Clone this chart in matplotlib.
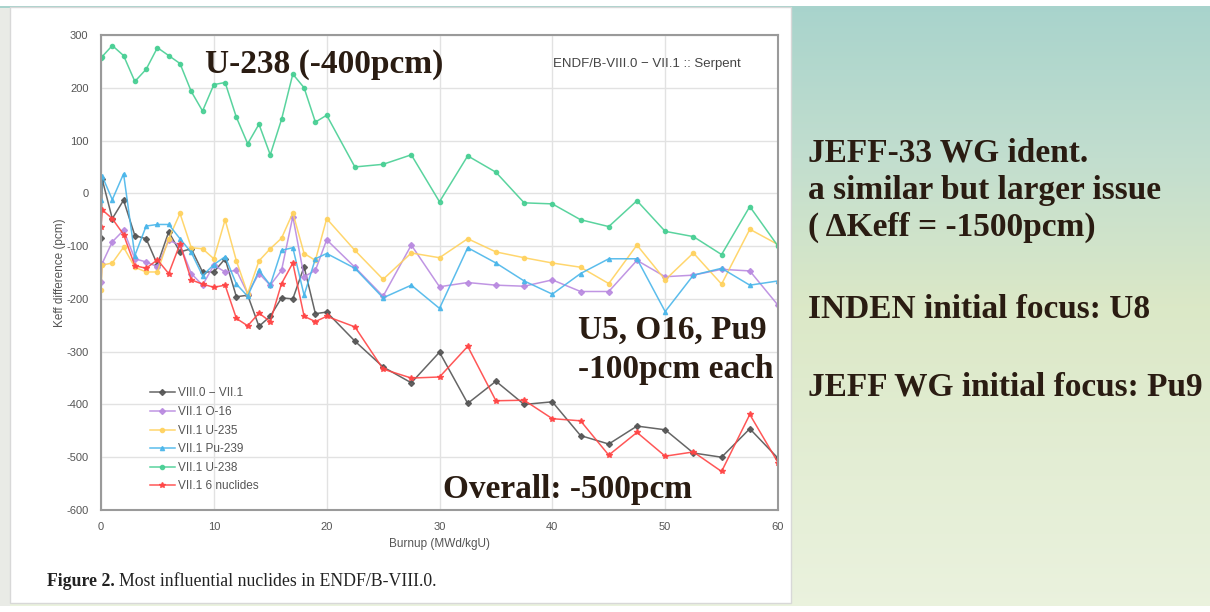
import numpy as np
import matplotlib.pyplot as plt
from matplotlib.patches import Rectangle

plt.rcParams['axes.unicode_minus'] = False

# burnup steps (MWd/kgU)
burnup = [0, 0.1, 1, 2, 3, 4, 5, 6, 7, 8, 9, 10, 11, 12, 13, 14, 15, 16, 17, 18, 19, 20,
          22.5, 25, 27.5, 30, 32.5, 35, 37.5, 40, 42.5, 45, 47.5, 50, 52.5, 55, 57.5, 60]

viii_minus_vii = [-84, 27, -48, -13, -80, -86, -135, -73, -111, -105, -149, -149, -124, -196,
                  -193, -252, -233, -198, -200, -139, -228, -225,
                  -280, -329, -359, -301, -398, -356, -400, -395, -459, -475, -441, -448,
                  -492, -500, -446, -502]
o16 = [-168, -133, -92, -70, -124, -130, -139, -89, -98, -152, -174, -136, -149, -146,
       -190, -152, -174, -146, -44, -158, -146, -88,
       -140, -195, -98, -177, -169, -174, -176, -164, -186, -186, -127, -158,
       -155, -144, -147, -212]
u235 = [-183, -136, -132, -102, -140, -149, -149, -86, -38, -103, -105, -124, -50, -128,
        -190, -128, -105, -85, -37, -114, -127, -48,
        -108, -163, -113, -122, -86, -111, -122, -132, -140, -171, -98, -164,
        -113, -172, -68, -97]
pu239 = [-12, 33, -12, 37, -118, -62, -59, -59, -86, -112, -156, -135, -120, -172,
         -195, -146, -174, -108, -103, -193, -124, -114,
         -142, -198, -174, -218, -103, -132, -166, -191, -152, -124, -124, -224,
         -155, -142, -174, -166]
u238 = [256, 259, 280, 261, 212, 235, 276, 261, 246, 193, 156, 206, 210, 144,
        94, 131, 73, 140, 226, 200, 135, 148,
        50, 55, 73, -16, 71, 40, -18, -20, -50, -63, -14, -72,
        -82, -116, -25, -100]
six_nuc = [-63, -31, -48, -78, -137, -142, -126, -152, -96, -164, -172, -178, -174, -237,
           -251, -227, -243, -171, -132, -233, -243, -233,
           -253, -333, -350, -348, -290, -393, -392, -427, -431, -496, -453, -498,
           -490, -527, -419, -510]

labels = ['VIII.0 \u2212 VII.1', 'VII.1 O-16', 'VII.1 U-235', 'VII.1 Pu-239',
          'VII.1 U-238', 'VII.1 6 nuclides']
colors = ['#555555', '#b98ae0', '#ffd25e', '#4ab6ea', '#48cf94', '#ff4545']
markers = ['D', 'D', 'o', '^', 'o', '*']

right_lines = ['JEFF-33 WG ident.', 'a similar but larger issue',
               '( \u0394Keff = -1500pcm)', 'INDEN initial focus: U8',
               'JEFF WG initial focus: Pu9']

W, H = 1210, 612
fig = plt.figure(figsize=(12.1, 6.12), dpi=100, facecolor='white')

# slide background gradient
bg = fig.add_axes([0, 6 / H, 1, 600 / H], zorder=-10)
stops = np.array([[0.66, 0.83, 0.80], [0.76, 0.87, 0.81], [0.86, 0.91, 0.78],
                  [0.89, 0.93, 0.83], [0.92, 0.95, 0.87]])
t = np.linspace(0, 1, 300)
grad = np.stack([np.interp(t, np.linspace(0, 1, len(stops)), stops[:, c]) for c in range(3)], axis=1)
bg.imshow(grad[:, None, :], aspect='auto', extent=[0, 1, 0, 1], origin='upper')
bg.axis('off')

# left pale strip and white panel with the paper figure
fig.patches.append(Rectangle((0, 6 / H), 10 / W, 598 / H, transform=fig.transFigure,
                             facecolor='#e9ebe6', edgecolor='none', zorder=-6))
fig.patches.append(Rectangle((10 / W, 9 / H), 781 / W, 596 / H, transform=fig.transFigure,
                             facecolor='white', edgecolor='#d8d8d8', lw=1, zorder=-5))

sans = 'Liberation Sans'
ax = fig.add_axes([101 / W, 1 - 510 / H, 677 / W, 475 / H])
series = [viii_minus_vii, o16, u235, pu239, u238, six_nuc]
for ys, lab, col, mk in zip(series, labels, colors, markers):
    ax.plot(burnup, ys, color=col, marker=mk, markersize=3.0 if mk != '*' else 3.8,
            lw=1.1, label=lab, alpha=0.9)

ax.set_xlim(0, 60)
ax.set_ylim(-600, 300)
ax.set_xticks(range(0, 61, 10))
ax.set_yticks(range(-600, 301, 100))
ax.grid(color='#e2e2e2', lw=1)
ax.set_axisbelow(True)
for s in ax.spines.values():
    s.set_color('#9a9a9a')
    s.set_linewidth(1.5)
ax.tick_params(length=0, labelsize=8, colors='#555555', pad=9)
for lbl in ax.get_xticklabels() + ax.get_yticklabels():
    lbl.set_family(sans)
ax.set_xlabel('Burnup (MWd/kgU)', fontsize=8.5, color='#555555', labelpad=4, family=sans)
ax.set_ylabel('Keff difference (pcm)', fontsize=8.5, color='#555555', labelpad=0, family=sans)

leg = ax.legend(loc='upper left', bbox_to_anchor=(0.065, 0.268), frameon=False,
                prop={'family': sans, 'size': 8.5}, handlelength=2.1, handletextpad=0.3,
                labelspacing=0.56, labelcolor='#555555', borderaxespad=0)

serif = 'Liberation Serif'
tc = '#2a1c12'
big = 24
ax.text(9.2, 245, 'U-238 (-400pcm)', fontsize=big, fontweight='bold', family=serif,
        color=tc, va='center')
ax.text(40.1, 246, 'ENDF/B-VIII.0 \u2212 VII.1 :: Serpent', fontsize=9.5, color='#444444',
        va='center', family=sans)
ax.text(42.3, -259, 'U5, O16, Pu9', fontsize=big, fontweight='bold', family=serif,
        color=tc, va='center')
ax.text(42.3, -334, '-100pcm each', fontsize=big, fontweight='bold', family=serif,
        color=tc, va='center')
ax.text(30.3, -562, 'Overall: -500pcm', fontsize=big, fontweight='bold', family=serif,
        color=tc, va='center')

# caption
cap = fig.text(47 / W, 1 - 582 / H, 'Figure 2.', fontsize=12.8, fontweight='bold',
               family=serif, color='#222222', va='center')
fig.canvas.draw()
bb = cap.get_window_extent()
fig.text(bb.x1 / W + 4 / W, 1 - 582 / H, 'Most influential nuclides in ENDF/B-VIII.0.',
         fontsize=12.8, family=serif, color='#222222', va='center')

# right side notes
ys_right = [153, 190, 227, 310, 387]
for txt, yp in zip(right_lines, ys_right):
    fig.text(808 / W, 1 - yp / H, txt, fontsize=24, fontweight='bold', family=serif,
             color=tc, va='center')

fig.savefig('out.png', dpi=100, facecolor='white')
